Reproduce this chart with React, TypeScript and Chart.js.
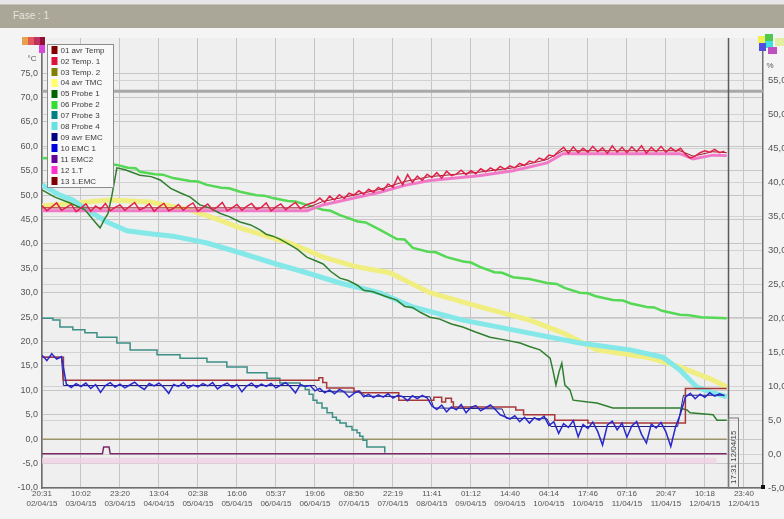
import React, { useEffect, useRef } from "react";
import { Chart, registerables } from "chart.js";

Chart.register(...registerables);

// ---- axis labels ----
const timeLabels = ["20:31", "10:02", "23:20", "13:04", "02:38", "16:06", "05:37", "19:06", "08:50", "22:19", "11:41", "01:12", "14:40", "04:14", "17:46", "07:16", "20:47", "10:18", "23:40"];
const dateLabels = ["02/04/15", "03/04/15", "03/04/15", "04/04/15", "05/04/15", "05/04/15", "06/04/15", "06/04/15", "07/04/15", "07/04/15", "08/04/15", "09/04/15", "09/04/15", "10/04/15", "10/04/15", "11/04/15", "11/04/15", "12/04/15", "12/04/15"];
const xTicks = [0, 1, 2, 3, 4, 5, 6, 7, 8, 9, 10, 11, 12, 13, 14, 15, 16, 17, 18];
const leftTicks = [-10, -5, 0, 5, 10, 15, 20, 25, 30, 35, 40, 45, 50, 55, 60, 65, 70, 75];
const rightTicks = [-5, 0, 5, 10, 15, 20, 25, 30, 35, 40, 45, 50, 55];
const xMin = 0;
const xMax = 18.49;
const leftMin = -10;
const leftMax = 82.2;
const rightMin = -5;
const rightMax = 61.3;
const sampleStep = 0.125;
const cursorPos = 17.59;
const cursorLabel = "17:31 12/04/15";

// ---- series (x in label-interval units, y in °C / %) ----
const temp1 = [
  47.9, 46.8, 47.6, 48.4, 46.9, 47.5, 48.1, 46.6,
  47.4, 48.2, 46.7, 47.8, 47.1, 48.3, 46.8, 47.5,
  48.0, 46.9, 47.7, 48.5, 47.0, 47.4, 48.2, 46.7,
  47.6, 48.3, 46.8, 47.3, 48.1, 46.9, 47.8, 48.4,
  46.7, 47.5, 48.2, 47.0, 47.6, 48.5, 46.8, 47.4,
  48.1, 46.9, 47.7, 48.3, 47.1, 47.5, 48.4, 46.8,
  47.6, 48.2, 47.0, 47.8, 48.5, 47.2, 47.9, 48.3,
  48.6, 49.4, 48.5, 49.8, 49.0, 50.1, 49.3, 50.4,
  50.0, 50.9, 50.2, 51.2, 50.6, 51.6, 51.0, 52.3,
  51.6, 53.8, 52.1, 54.2, 52.6, 53.9, 53.0, 54.3,
  53.6, 54.6, 53.5, 54.9, 54.0, 54.3, 55.1, 54.2,
  55.0, 54.4, 55.4, 54.8, 55.6, 55.0, 55.9, 55.3,
  56.0, 55.6, 56.5, 56.1, 57.0, 56.7, 57.6, 57.2,
  58.2, 58.0, 59.0, 59.8, 58.6, 59.9, 58.7, 59.6,
  58.8, 60.0, 58.9, 59.7, 58.6, 60.1, 58.8, 59.8,
  58.7, 59.9, 58.9, 60.1, 58.6, 59.8, 58.9, 60.0,
  58.8, 59.7, 59.0, 59.6, 58.4, 57.6, 58.0, 58.7,
  59.1, 58.8, 59.4, 58.7, 59.0,
];

const emc1 = [
  17.2, 16.1, 17.5, 16.4, 16.9, 11.3, 10.6, 11.4,
  10.8, 11.5, 10.4, 11.2, 9.6, 11.0, 11.6, 10.7,
  11.3, 10.5, 11.1, 11.7, 10.8, 10.2, 11.4, 10.9,
  11.5, 10.6, 9.4, 11.2, 10.8, 11.6, 10.5, 11.1,
  10.7, 11.4, 10.9, 11.6, 10.3, 11.0, 11.5, 10.6,
  11.2, 9.7, 10.9, 11.5, 10.6, 11.3, 10.8, 11.4,
  10.5, 11.1, 11.6, 10.7, 9.5, 11.2, 10.8, 11.0,
  9.9, 10.4, 9.5, 10.1, 9.3, 10.2, 9.7, 8.6,
  9.4, 9.9, 8.7, 9.2, 8.5, 9.1, 8.6, 9.3,
  8.4, 9.0, 8.7, 7.9, 8.9, 8.3, 9.0, 8.5,
  6.8, 6.1, 7.0, 5.6, 6.6, 6.0, 7.1, 5.4,
  6.5, 6.9, 5.8, 6.4, 7.0, 6.1, 5.0, 4.6,
  4.1, 4.8, 3.6, 4.5, 3.3, 4.4, 3.9, 4.7,
  2.8, 3.6, 1.2, 3.2, 2.4, 3.8, 0.5, 3.0,
  2.2, 3.5, 1.6, -1.2, 2.9, 3.7, 1.9, 3.3,
  0.4, 2.7, 3.6, 1.0, -0.8, 3.1, 2.3, 3.4,
  1.5, -1.5, 2.6, 5.2, 8.6, 9.4, 8.3, 9.2,
  8.6, 9.5, 8.8, 9.3, 8.9,
];

const avgTemp = [[0, 47.4], [6.8, 47.4], [7.2, 48.7], [8.0, 50.0], [8.67, 51.2], [9.3, 52.8], [9.95, 53.8], [11.2, 54.7], [12.08, 55.6], [12.95, 57.3], [13.36, 59.1], [16.36, 59.1], [16.7, 58.0], [17.2, 58.9], [17.56, 58.7]];

const oneT = [[0, 46.8], [6.8, 46.8], [7.2, 48.0], [8.0, 49.4], [8.67, 50.6], [9.3, 52.0], [9.95, 53.0], [11.2, 54.0], [12.08, 55.0], [12.95, 56.6], [13.36, 58.5], [16.36, 58.5], [16.7, 57.4], [17.2, 58.2], [17.56, 58.1]];

const temp2 = [[0, 0], [17.56, 0]];

const avgTmc = [[0, 47.8], [1.74, 49.0], [2.77, 48.6], [3.79, 47.0], [4.56, 44.9], [5.08, 43.3], [5.85, 41.4], [6.36, 40.2], [7.21, 37.3], [8.08, 35.3], [8.92, 34.1], [9.95, 30.0], [11.23, 27.1], [12.51, 24.4], [13.36, 21.8], [14.23, 18.3], [15.51, 16.8], [16.36, 14.8], [17.21, 12.1], [17.56, 10.7]];

const probe1 = [[0, 51.1], [0.33, 49.6], [0.72, 48.4], [1.1, 47.0], [1.36, 44.5], [1.49, 43.3], [1.59, 44.9], [1.69, 46.2], [1.79, 49.8], [1.92, 55.6], [2.13, 55.2], [2.51, 54.1], [2.8, 53.8], [3.03, 53.1], [3.3, 51.4], [3.54, 50.5], [3.8, 49.6], [4.05, 48.0], [4.3, 47.4], [4.56, 46.3], [4.8, 45.6], [5.08, 44.5], [5.35, 43.9], [5.59, 42.9], [5.75, 42.0], [5.92, 41.6], [6.1, 41.0], [6.36, 39.8], [6.55, 38.9], [6.79, 37.3], [7.0, 36.6], [7.21, 35.9], [7.4, 34.4], [7.64, 33.0], [7.85, 32.5], [8.08, 31.6], [8.25, 30.5], [8.49, 30.2], [8.8, 29.3], [9.1, 28.5], [9.3, 27.2], [9.5, 27.0], [9.7, 26.0], [9.95, 25.0], [10.2, 24.6], [10.5, 23.6], [10.79, 23.0], [11.1, 22.0], [11.49, 20.9], [11.9, 20.3], [12.26, 19.7], [12.5, 19.0], [12.77, 18.3], [13.03, 16.6], [13.1, 14.2], [13.18, 11.1], [13.26, 13.8], [13.33, 15.6], [13.41, 11.1], [13.54, 10.1], [13.62, 8.0], [14.0, 7.6], [14.23, 7.4], [14.64, 6.4], [16.36, 6.4], [16.54, 6.0], [16.62, 5.4], [17.21, 5.0], [17.31, 3.9], [17.56, 3.9]];

const probe2 = [[0, 57.6], [0.5, 57.4], [0.97, 57.2], [1.5, 56.6], [1.92, 56.2], [2.2, 55.6], [2.4, 55.5], [2.51, 54.8], [2.9, 54.3], [3.1, 54.2], [3.36, 53.5], [3.8, 52.9], [4.0, 52.8], [4.23, 52.1], [4.6, 51.5], [4.8, 51.4], [5.08, 50.7], [5.5, 50.0], [5.7, 49.9], [5.92, 49.4], [6.3, 48.8], [6.5, 48.7], [6.79, 48.0], [7.2, 47.0], [7.4, 46.8], [7.64, 45.9], [8.1, 44.6], [8.3, 44.4], [8.67, 42.9], [9.1, 41.0], [9.3, 40.9], [9.51, 39.2], [9.9, 38.4], [10.1, 38.3], [10.38, 37.3], [10.8, 36.4], [11.0, 36.2], [11.23, 35.3], [11.6, 34.2], [11.8, 34.1], [12.08, 33.2], [12.5, 32.8], [12.95, 32.0], [13.2, 31.8], [13.4, 31.0], [13.79, 30.0], [14.0, 29.9], [14.2, 29.3], [14.64, 28.5], [14.9, 28.4], [15.1, 27.8], [15.51, 27.1], [15.7, 27.0], [15.9, 26.3], [16.36, 25.5], [16.6, 25.4], [16.9, 25.0], [17.56, 24.8]];

const probe3 = [[0, 24.8], [0.28, 24.4], [0.46, 23.0], [0.79, 22.4], [1.1, 21.8], [1.41, 20.9], [1.92, 19.7], [2.26, 18.3], [2.95, 17.3], [3.54, 16.6], [4.23, 15.8], [4.74, 14.8], [5.26, 13.6], [5.77, 12.5], [6.1, 11.5], [6.62, 10.9], [6.75, 10.2], [6.85, 9.2], [6.95, 8.0], [7.05, 7.4], [7.18, 6.4], [7.31, 5.4], [7.45, 4.5], [7.55, 3.9], [7.64, 3.3], [7.8, 2.6], [7.95, 1.9], [8.08, 1.3], [8.15, 0.6], [8.23, -0.2], [8.33, -1.6], [8.74, -1.6], [8.79, -2.8]];

const probe4 = [[0, 52.1], [0.46, 50.0], [0.79, 49.0], [1.23, 46.6], [1.67, 44.5], [2.18, 42.7], [2.77, 42.1], [3.36, 41.6], [4.23, 40.2], [5.08, 38.2], [5.92, 36.1], [6.79, 34.1], [7.64, 32.0], [8.67, 30.0], [9.51, 27.1], [10.79, 24.4], [12.08, 22.4], [13.79, 19.7], [15.08, 18.3], [15.92, 16.8], [16.36, 14.2], [16.79, 10.7], [17.21, 9.5], [17.56, 8.7]];

const avgEmc = [[0, 16.8], [0.5, 16.8], [0.55, 11.0], [7.0, 11.0], [7.1, 9.8], [8.2, 9.6], [8.3, 8.8], [9.95, 8.7], [10.05, 6.4], [11.8, 6.2], [11.9, 4.3], [12.95, 4.2], [13.05, 2.6], [16.3, 2.6], [16.45, 9.0], [17.5, 9.0]];

const emc2 = [[0, -3.0], [1.55, -3.0], [1.58, -1.6], [1.72, -1.6], [1.75, -3.0], [17.56, -3.0]];

const oneEmc = [[0, 16.8], [0.5, 16.8], [0.55, 12.1], [7.05, 12.1], [7.1, 12.6], [7.2, 11.6], [7.3, 10.5], [7.95, 10.5], [8.0, 9.8], [8.15, 9.5], [9.1, 9.5], [9.15, 8.0], [9.95, 8.0], [10.05, 8.6], [10.25, 7.6], [10.35, 8.4], [10.5, 7.6], [10.55, 6.6], [12.1, 6.6], [12.15, 6.0], [12.3, 6.0], [12.35, 5.0], [13.1, 5.0], [13.15, 3.9], [13.95, 3.9], [14.0, 3.3], [16.4, 3.3], [16.5, 10.4], [17.56, 10.4]];

const limitLine = [[0, 71.3], [18.49, 71.3]];
const lowBand = [[0, -4.4], [17.3, -4.4]];

const FONT = "'Liberation Sans', Arial, sans-serif";

function pairs(p: number[][]) {
  return p.map(([x, y]) => ({ x, y }));
}
function samples(v: number[]) {
  return v.map((y, i) => ({ x: i * sampleStep, y }));
}

const decorPlugin = {
  id: "decor",
  beforeDraw(chart: any) {
    const { ctx, chartArea: ca, width, height } = chart;
    ctx.save();
    ctx.fillStyle = "#f4f4f4";
    ctx.fillRect(0, 0, width, height);
    ctx.fillStyle = "#efefef";
    ctx.fillRect(ca.left, ca.top, ca.right - ca.left, ca.bottom - ca.top);
    ctx.restore();
  },
  afterDraw(chart: any) {
    const { ctx, chartArea: ca, scales } = chart;
    const xs = scales.x;
    // cursor line
    ctx.save();
    const cx = Math.round(xs.getPixelForValue(cursorPos)) + 0.5;
    ctx.strokeStyle = "#5a5a5a";
    ctx.lineWidth = 1.5;
    ctx.beginPath();
    ctx.moveTo(cx, ca.top);
    ctx.lineTo(cx, ca.bottom);
    ctx.stroke();
    ctx.lineWidth = 1;
    ctx.strokeStyle = "#7a7a7a";
    ctx.strokeRect(cx, ca.bottom - 70, 10, 70);
    ctx.translate(cx + 5.5, ca.bottom - 4);
    ctx.rotate(-Math.PI / 2);
    ctx.font = "8px " + FONT;
    ctx.fillStyle = "#444";
    ctx.textBaseline = "middle";
    ctx.textAlign = "left";
    ctx.fillText(cursorLabel, 0, 0);
    ctx.restore();

    // legend box
    ctx.save();
    const items = chart.data.datasets.filter((d: any) => d.legendColor);
    const bx = ca.left + 5.5;
    const by = ca.top + 6.5;
    const bw = 66;
    const bh = 143;
    ctx.fillStyle = "#f8f8f8";
    ctx.fillRect(bx, by, bw, bh);
    ctx.strokeStyle = "#8c8c8c";
    ctx.lineWidth = 1;
    ctx.strokeRect(bx, by, bw, bh);
    ctx.font = "8px " + FONT;
    ctx.textBaseline = "middle";
    ctx.textAlign = "left";
    items.forEach((d: any, i: number) => {
      const y = by + 5.5 + i * 10.9;
      ctx.fillStyle = d.legendColor;
      ctx.fillRect(bx + 4, Math.round(y - 4), 6, 8);
      ctx.fillStyle = "#3a3a3a";
      ctx.fillText(d.label, bx + 13, y + 0.5);
    });
    ctx.restore();

    // axis icons
    ctx.save();
    const lx = ca.left;
    const ty = ca.top;
    const leftIcon: [number, number, number, number, string][] = [
      [-20, -1, 6, 8, "#e8a050"], [-14, -1, 6, 8, "#e05a5a"], [-8, -1, 6, 8, "#c03060"], [-2, -1, 5, 8, "#901038"], [-3, 7, 6, 8, "#d848d8"],
    ];
    leftIcon.forEach(([dx, dy, w, h, c]) => { ctx.fillStyle = c; ctx.fillRect(lx + dx, ty + dy, w, h); });
    ctx.fillStyle = "#555";
    ctx.font = "8px " + FONT;
    ctx.textAlign = "center";
    ctx.textBaseline = "middle";
    ctx.fillText("°C", lx - 10, ty + 21);
    const rx = ca.right;
    const rightIcon: [number, number, number, number, string][] = [
      [-5, -2, 7, 7, "#f0f050"], [2, -4, 8, 7, "#50c850"], [2, 3, 8, 7, "#40e0e0"], [-4, 5, 7, 8, "#5050e0"], [5, 9, 9, 7, "#c050c0"], [12, 0, 10, 8, "#e0f0a0"],
    ];
    rightIcon.forEach(([dx, dy, w, h, c]) => { ctx.fillStyle = c; ctx.fillRect(rx + dx, ty + dy, w, h); });
    ctx.fillStyle = "#555";
    ctx.fillText("%", rx + 7, ty + 28);
    ctx.fillStyle = "#111";
    ctx.fillRect(ca.right - 2, ca.bottom - 3, 4, 4);
    ctx.restore();
  },
};

export default function App() {
  const ref = useRef<HTMLCanvasElement>(null);

  useEffect(() => {
    const canvas = ref.current;
    if (!canvas) return;
    const line = (label: string, data: any[], color: string, width: number, order: number, extra: any = {}) => ({
      label,
      data,
      borderColor: color,
      backgroundColor: color,
      borderWidth: width,
      pointRadius: 0,
      fill: false,
      tension: 0,
      order,
      yAxisID: "y",
      ...extra,
    });

    const datasets: any[] = [
      line("01 avr Temp", pairs(avgTemp), "#a01830", 1, 6, { legendColor: "#800000" }),
      line("02 Temp. 1", samples(temp1), "#e0224a", 1.5, 1, { legendColor: "#dc143c" }),
      line("03 Temp. 2", pairs(temp2), "#9a9468", 1.5, 12, { legendColor: "#808000" }),
      line("04 avr TMC", pairs(avgTmc), "#f0ee80", 5, 11, { legendColor: "#ffff66" }),
      line("05 Probe 1", pairs(probe1), "#2f7f2f", 1.5, 4, { legendColor: "#006400" }),
      line("06 Probe 2", pairs(probe2), "#55d855", 2.5, 9, { legendColor: "#33dd33" }),
      line("07 Probe 3", pairs(probe3), "#3d8f86", 1.5, 5, { legendColor: "#008080", stepped: true }),
      line("08 Probe 4", pairs(probe4), "#84e8e8", 5, 10, { legendColor: "#66e0e0" }),
      line("09 avr EMC", pairs(avgEmc), "#20207a", 1, 7, { legendColor: "#000080" }),
      line("10 EMC 1", samples(emc1), "#2828cc", 1.5, 2, { legendColor: "#0000dd" }),
      line("11 EMC2", pairs(emc2), "#7a2a66", 1.5, 13, { legendColor: "#660099" }),
      line("12 1.T", pairs(oneT), "#f07ac8", 3, 8, { legendColor: "#ff33cc" }),
      line("13 1.EMC", pairs(oneEmc), "#a83838", 1.5, 3, { legendColor: "#800000", stepped: true }),
      line("limit", pairs(limitLine), "#a8a8a8", 3, 14),
      line("band", pairs(lowBand), "rgba(242,208,228,0.75)", 6, 15),
    ];

    const tickFont = { family: FONT, size: 9 };

    const chart = new Chart(canvas, {
      type: "line",
      data: { datasets },
      plugins: [decorPlugin],
      options: {
        animation: false,
        responsive: true,
        maintainAspectRatio: false,
        events: [],
        layout: { padding: { top: 38, left: 0, right: 0, bottom: 0 } },
        plugins: { legend: { display: false }, tooltip: { enabled: false }, title: { display: false } },
        scales: {
          x: {
            type: "linear",
            min: xMin,
            max: xMax,
            afterBuildTicks: (s: any) => { s.ticks = xTicks.map((v) => ({ value: v })); },
            afterFit: (s: any) => { s.height = 31; },
            ticks: {
              autoSkip: false,
              maxRotation: 0,
              padding: 1,
              color: "#555",
              font: { family: FONT, size: 8, lineHeight: 1.2 },
              callback: (v: any) => [timeLabels[v], dateLabels[v]],
            },
            grid: { color: "#c4c4c4", lineWidth: 1, drawTicks: false },
            border: { display: true, color: "#6e6e6e", width: 1.5 },
          },
          y: {
            type: "linear",
            position: "left",
            min: leftMin,
            max: leftMax,
            afterBuildTicks: (s: any) => { s.ticks = leftTicks.map((v) => ({ value: v })); },
            afterFit: (s: any) => { s.width = 42; },
            ticks: {
              padding: 4,
              color: "#555",
              font: tickFont,
              callback: (v: any) => Number(v).toFixed(1).replace(".", ","),
            },
            grid: { color: "#c6c6c6", lineWidth: 1, drawTicks: false },
            border: { display: true, color: "#6e6e6e", width: 1.5 },
          },
          y1: {
            type: "linear",
            position: "right",
            min: rightMin,
            max: rightMax,
            afterBuildTicks: (s: any) => { s.ticks = rightTicks.map((v) => ({ value: v })); },
            afterFit: (s: any) => { s.width = 21; },
            ticks: {
              padding: 5,
              color: "#555",
              font: { family: FONT, size: 9.5 },
              callback: (v: any) => Number(v).toFixed(1).replace(".", ","),
            },
            grid: { color: "#d2d2d2", lineWidth: 1, drawTicks: false },
            border: { display: true, color: "#6e6e6e", width: 1.5 },
          },
        },
      } as any,
    });
    return () => chart.destroy();
  }, []);

  return (
    <div style={{ position: "fixed", left: 0, top: 0, width: 784, height: 519, overflow: "hidden", background: "#f4f4f4" }}>
      <div style={{ position: "absolute", left: 0, top: 0, width: 784, height: 519 }}>
        <canvas ref={ref} style={{ display: "block" }} />
      </div>
      <div style={{ position: "absolute", left: 0, top: 0, width: 784, height: 4, background: "#e6e6e6" }} />
      <div
        style={{
          position: "absolute",
          left: 0,
          top: 4,
          width: 784,
          height: 24,
          background: "#aaa698",
          borderTop: "1px solid #c8c5b8",
          boxSizing: "border-box",
          color: "#e6e4dc",
          fontFamily: FONT,
          fontSize: 10,
          lineHeight: "22px",
          paddingLeft: 13,
        }}
      >
        Fase : 1
      </div>
    </div>
  );
}
